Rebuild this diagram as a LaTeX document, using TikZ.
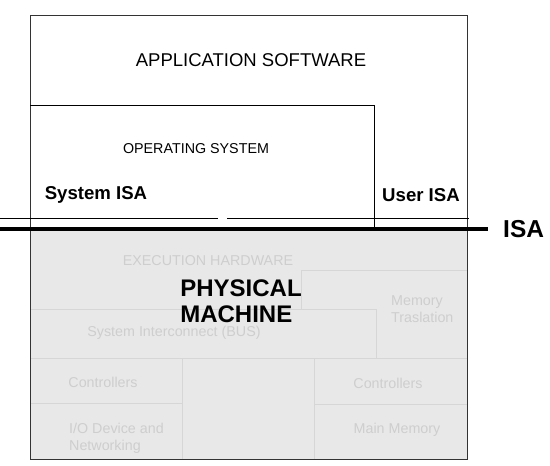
\documentclass[tikz,border=0pt]{standalone}
\usepackage{fontspec}
\setmainfont{Liberation Sans}
\definecolor{hwfill}{HTML}{E8E8E8}
\definecolor{hwline}{HTML}{D6D6D6}
\definecolor{hwtext}{HTML}{CECECE}
\tikzset{
    hwbox/.style={draw=hwline, line width=0.8pt},
    hwlabel/.style={text=hwtext, font=\fontsize{14.3}{17}\selectfont, align=left, inner sep=0pt},
    swlabel/.style={font=\fontsize{18.5}{21}\selectfont, inner sep=0pt},
    isalabel/.style={font=\bfseries\fontsize{18.6}{21}\selectfont, inner sep=0pt}
}
\begin{document}
\begin{tikzpicture}[x=1pt, y=-1pt]
        \useasboundingbox (0,0) rectangle (550,466);

        % physical machine
        \fill[hwfill] (30,230) rectangle (467,459);
        \draw[hwbox] (301,309) -- (301,270) -- (467,270);
        \draw[hwbox] (30,309) -- (376,309) -- (376,358);
        \draw[hwbox] (30,358) -- (467,358);
        \draw[hwbox] (182,358) -- (182,459);
        \draw[hwbox] (314,358) -- (314,459);
        \draw[hwbox] (30,403) -- (182,403);
        \draw[hwbox] (314,404) -- (467,404);

        \node[hwlabel] (exec) at (208,261) {EXECUTION HARDWARE};
        \node[hwlabel, anchor=west] (mem) at (391,309) {Memory\\Traslation};
        \node[hwlabel] (bus) at (174,333) {System Interconnect (BUS)};
        \node[hwlabel] (ctl1) at (103,382) {Controllers};
        \node[hwlabel] (ctl2) at (388,383) {Controllers};
        \node[hwlabel, anchor=west] (io) at (69,438) {I/O Device and\\Networking};
        \node[hwlabel] (main) at (397,430) {Main Memory};
        \node[font=\bfseries\fontsize{24}{26}\selectfont, align=left, inner sep=0pt] (pm) at (241,301) {PHYSICAL\\MACHINE};

        % software layers
        \draw[black!80, line width=0.8pt] (30,459) -- (30,15) -- (467,15) -- (467,459) -- (30,459);
        \draw[line width=0.8pt] (30,105) -- (374,105) -- (374,227);
        \node[swlabel] (app) at (251,60) {APPLICATION SOFTWARE};
        \node[font=\fontsize{14.3}{16}\selectfont, inner sep=0pt] (os) at (196,149) {OPERATING SYSTEM};
        \node[isalabel] (sys) at (96,195) {System ISA};
        \node[isalabel] (user) at (421,195) {User ISA};

        % interface lines
        \node[font=\bfseries\fontsize{24.5}{26}\selectfont, anchor=west, inner sep=0pt] (isa) at (503,229) {ISA};
        \coordinate (l0) at (0,218);
        \coordinate (l1) at (218,218);
        \coordinate (l2) at (227,218);
        \coordinate (l3) at (469,218);
        \coordinate (t0) at (0,228.5);
        \coordinate (t1) at (488,228.5);
        \draw[line width=1pt] (l0) -- (l1);
        \draw[line width=1pt] (l2) -- (l3);
        \draw[line width=4pt] (t0) -- (t1);
    \end{tikzpicture}
\end{document}
